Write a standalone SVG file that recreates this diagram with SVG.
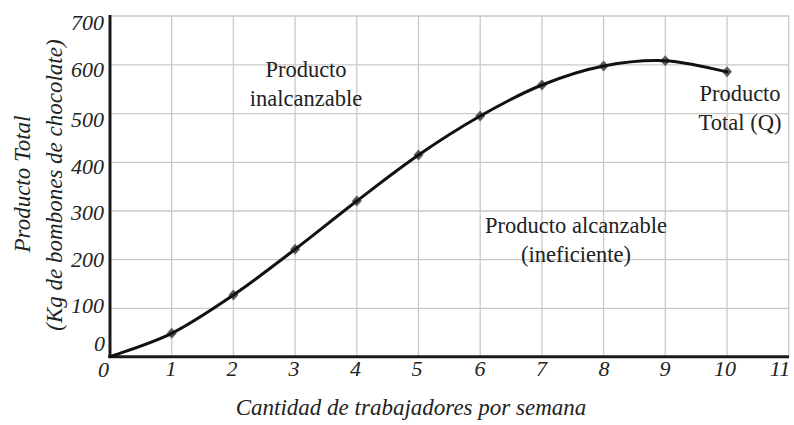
<svg xmlns="http://www.w3.org/2000/svg" width="794" height="425" viewBox="0 0 794 425">
<style>
.grid{stroke:#c9c9c9;stroke-width:1.3;fill:none}
.axis{stroke:#1a1a1a;stroke-width:3;fill:none}
.curve{stroke:#111;stroke-width:3;fill:none;stroke-linecap:round}
.mk{fill:#5a5a5a}
.num{font-family:"Liberation Serif","Times New Roman",serif;font-style:italic;font-size:22px;fill:#222}
.ttl{font-family:"Liberation Serif","Times New Roman",serif;font-style:italic;font-size:23px;fill:#222}
.lbl{font-family:"Liberation Serif","Times New Roman",serif;font-size:22.5px;fill:#222}
</style>
<defs>
<path id="dia" d="M0,-5.5 L5,0 L0,5.5 L-5,0 Z"/>
</defs>
<rect width="794" height="425" fill="#fff"/>
<g id="grid" class="grid">
<line x1="110" y1="16" x2="789" y2="16"/>
<line x1="110" y1="64.9" x2="789" y2="64.9"/>
<line x1="110" y1="113.6" x2="789" y2="113.6"/>
<line x1="110" y1="162.3" x2="789" y2="162.3"/>
<line x1="110" y1="211" x2="789" y2="211"/>
<line x1="110" y1="259.7" x2="789" y2="259.7"/>
<line x1="110" y1="308.4" x2="789" y2="308.4"/>
<line x1="171.7" y1="16" x2="171.7" y2="357"/>
<line x1="233.4" y1="16" x2="233.4" y2="357"/>
<line x1="295.1" y1="16" x2="295.1" y2="357"/>
<line x1="356.8" y1="16" x2="356.8" y2="357"/>
<line x1="418.5" y1="16" x2="418.5" y2="357"/>
<line x1="480.2" y1="16" x2="480.2" y2="357"/>
<line x1="541.9" y1="16" x2="541.9" y2="357"/>
<line x1="603.6" y1="16" x2="603.6" y2="357"/>
<line x1="665.3" y1="16" x2="665.3" y2="357"/>
<line x1="727" y1="16" x2="727" y2="357"/>
<line x1="788.7" y1="16" x2="788.7" y2="357"/>
</g>
<g id="axes" class="axis">
<line x1="110" y1="15" x2="110" y2="358"/>
<line x1="108.5" y1="356.7" x2="789" y2="356.7"/>
</g>
<g id="markers" class="mk">
<use href="#dia" x="171.7" y="333.3"/>
<use href="#dia" x="233.4" y="295"/>
<use href="#dia" x="295.1" y="249.3"/>
<use href="#dia" x="356.8" y="201"/>
<use href="#dia" x="418.5" y="155"/>
<use href="#dia" x="480.2" y="116"/>
<use href="#dia" x="541.9" y="85"/>
<use href="#dia" x="603.6" y="66"/>
<use href="#dia" x="665.3" y="60.7"/>
<use href="#dia" x="727" y="71.7"/>
</g>
<g id="connectors">
<path id="total-product-curve" class="curve" d="M110,356.7 C120.3,352.8 151.1,343.6 171.7,333.3 C192.3,323 212.8,309 233.4,295 C254,281 274.5,265 295.1,249.3 C315.7,233.6 336.2,216.7 356.8,201 C377.4,185.3 397.9,169.2 418.5,155 C439.1,140.8 459.6,127.7 480.2,116 C500.8,104.3 521.3,93.3 541.9,85 C562.5,76.7 583,70.05 603.6,66 C624.2,61.95 644.7,59.75 665.3,60.7 C685.9,61.65 716.7,69.9 727,71.7"/>
</g>
<g id="y-ticks" class="num" text-anchor="end">
<text x="104" y="29.5">700</text>
<text x="104" y="77">600</text>
<text x="104" y="126.5">500</text>
<text x="104" y="174">400</text>
<text x="104" y="219.5">300</text>
<text x="104" y="267">200</text>
<text x="104" y="313">100</text>
<text x="105" y="351">0</text>
</g>
<g id="x-ticks" class="num" text-anchor="middle">
<text x="103.5" y="377">0</text>
<text x="171" y="376">1</text>
<text x="232" y="376">2</text>
<text x="294" y="376">3</text>
<text x="355.5" y="376">4</text>
<text x="417" y="376">5</text>
<text x="480" y="376">6</text>
<text x="541.5" y="376">7</text>
<text x="604" y="376">8</text>
<text x="665" y="376">9</text>
<text x="725" y="376">10</text>
<text x="780" y="376">11</text>
</g>
<g id="axis-titles" class="ttl" text-anchor="middle">
<text x="411" y="415">Cantidad de trabajadores por semana</text>
<text transform="translate(30,184) rotate(-90)">Producto Total</text>
<text transform="translate(62,185) rotate(-90)">(Kg de bombones de chocolate)</text>
</g>
<g id="label-unreachable" class="lbl" text-anchor="middle">
<text x="306" y="77">Producto</text>
<text x="306" y="105.5">inalcanzable</text>
</g>
<g id="label-reachable" class="lbl" text-anchor="middle">
<text x="576" y="233">Producto alcanzable</text>
<text x="576" y="262">(ineficiente)</text>
</g>
<g id="label-total" class="lbl" text-anchor="middle">
<text x="740" y="101">Producto</text>
<text x="740" y="130">Total (Q)</text>
</g>
</svg>
